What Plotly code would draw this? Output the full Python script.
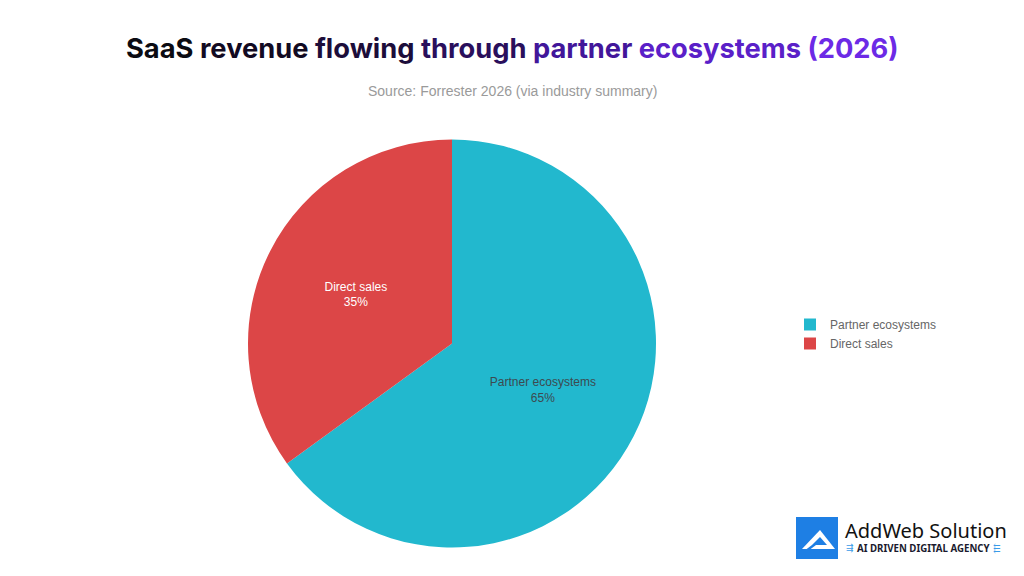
import plotly.graph_objects as go

labels = ["Partner ecosystems", "Direct sales"]
values = [65, 35]
colors = ["#22B8CE", "#DC4647"]
label_colors = ["#3d4a50", "#ffffff"]

title_words = ["SaaS", "revenue", "flowing", "through", "partner", "ecosystems", "(2026)"]
title_colors = ["#0b0b12", "#120a22", "#1c0d3a", "#2a0f5c", "#42169a", "#5a20c8", "#6c2ae6"]
subtitle = "Source: Forrester 2026 (via industry summary)"

W, H = 1024, 576

def px(x):
    return x / W

def py(y):
    return 1 - y / H

fig = go.Figure()
fig.add_trace(go.Pie(
    labels=labels,
    values=values,
    marker=dict(colors=colors, line=dict(width=0)),
    textinfo="label+percent",
    textposition="inside",
    insidetextorientation="horizontal",
    textfont=dict(family="Liberation Sans, Arial, sans-serif", size=12, color=label_colors),
    sort=False,
    direction="clockwise",
    rotation=0,
    hole=0,
    domain=dict(x=[px(248), px(656)], y=[py(548), py(139)]),
    showlegend=True,
))

title_html = "<b>" + " ".join(
    f"<span style='color:{c}'>{w}</span>" for w, c in zip(title_words, title_colors)
) + "</b>"

annotations = [
    dict(text=title_html, x=px(512.5), y=py(48), xref="paper", yref="paper",
         xanchor="center", yanchor="middle", showarrow=False,
         font=dict(family="Inter, Roboto, sans-serif", size=27.3, color="#111")),
    dict(text=subtitle, x=0.5, y=py(91), xref="paper", yref="paper",
         xanchor="center", yanchor="middle", showarrow=False,
         font=dict(family="Liberation Sans, Arial, sans-serif", size=14, color="#9a9a9a")),
    dict(text="AddWeb Solution", x=px(843), y=py(530), xref="paper", yref="paper",
         xanchor="left", yanchor="middle", showarrow=False,
         font=dict(family="Noto Sans, DejaVu Sans, sans-serif", size=20, color="#111")),
    dict(text="<b>AI DRIVEN DIGITAL AGENCY</b>", x=px(855), y=py(548), xref="paper", yref="paper",
         xanchor="left", yanchor="middle", showarrow=False,
         font=dict(family="Noto Sans, DejaVu Sans, sans-serif", size=9.7, color="#1a1a2e")),
    dict(text="⇶", x=px(850), y=py(548), xref="paper", yref="paper",
         xanchor="center", yanchor="middle", showarrow=False,
         font=dict(family="DejaVu Sans", size=9, color="#3a9be8")),
    dict(text="⬱", x=px(997), y=py(548), xref="paper", yref="paper",
         xanchor="center", yanchor="middle", showarrow=False,
         font=dict(family="DejaVu Sans", size=9, color="#3a9be8")),
]

def path(points):
    return "M " + " L ".join(f"{px(x)},{py(y)}" for x, y in points) + " Z"

shapes = [
    dict(type="rect", xref="paper", yref="paper",
         x0=px(796), x1=px(838), y0=py(559), y1=py(517),
         fillcolor="#1E7FE4", line=dict(width=0)),
    dict(type="path", xref="paper", yref="paper",
         path=path([(820, 530), (835, 549), (802, 549)]),
         fillcolor="#ffffff", line=dict(width=0)),
    dict(type="path", xref="paper", yref="paper",
         path=path([(820, 537), (827, 545), (812, 545)]),
         fillcolor="#1E7FE4", line=dict(width=0)),
    dict(type="path", xref="paper", yref="paper",
         path=path([(812, 545), (816, 545), (810, 549.5), (806, 549.5)]),
         fillcolor="#1E7FE4", line=dict(width=0)),
]

fig.update_layout(
    width=W, height=H,
    margin=dict(l=0, r=0, t=0, b=0),
    paper_bgcolor="#ffffff",
    plot_bgcolor="#ffffff",
    annotations=annotations,
    shapes=shapes,
    legend=dict(
        x=px(790), y=py(310), xanchor="left", yanchor="top",
        font=dict(family="Liberation Sans, Arial, sans-serif", size=12, color="#666666"),
        bgcolor="rgba(0,0,0,0)", itemwidth=30, tracegroupgap=0,
    ),
)

fig.write_html(
    "out.html",
    config={"displayModeBar": False},
    post_script="document.body.style.margin='0';document.body.style.padding='0';",
)
